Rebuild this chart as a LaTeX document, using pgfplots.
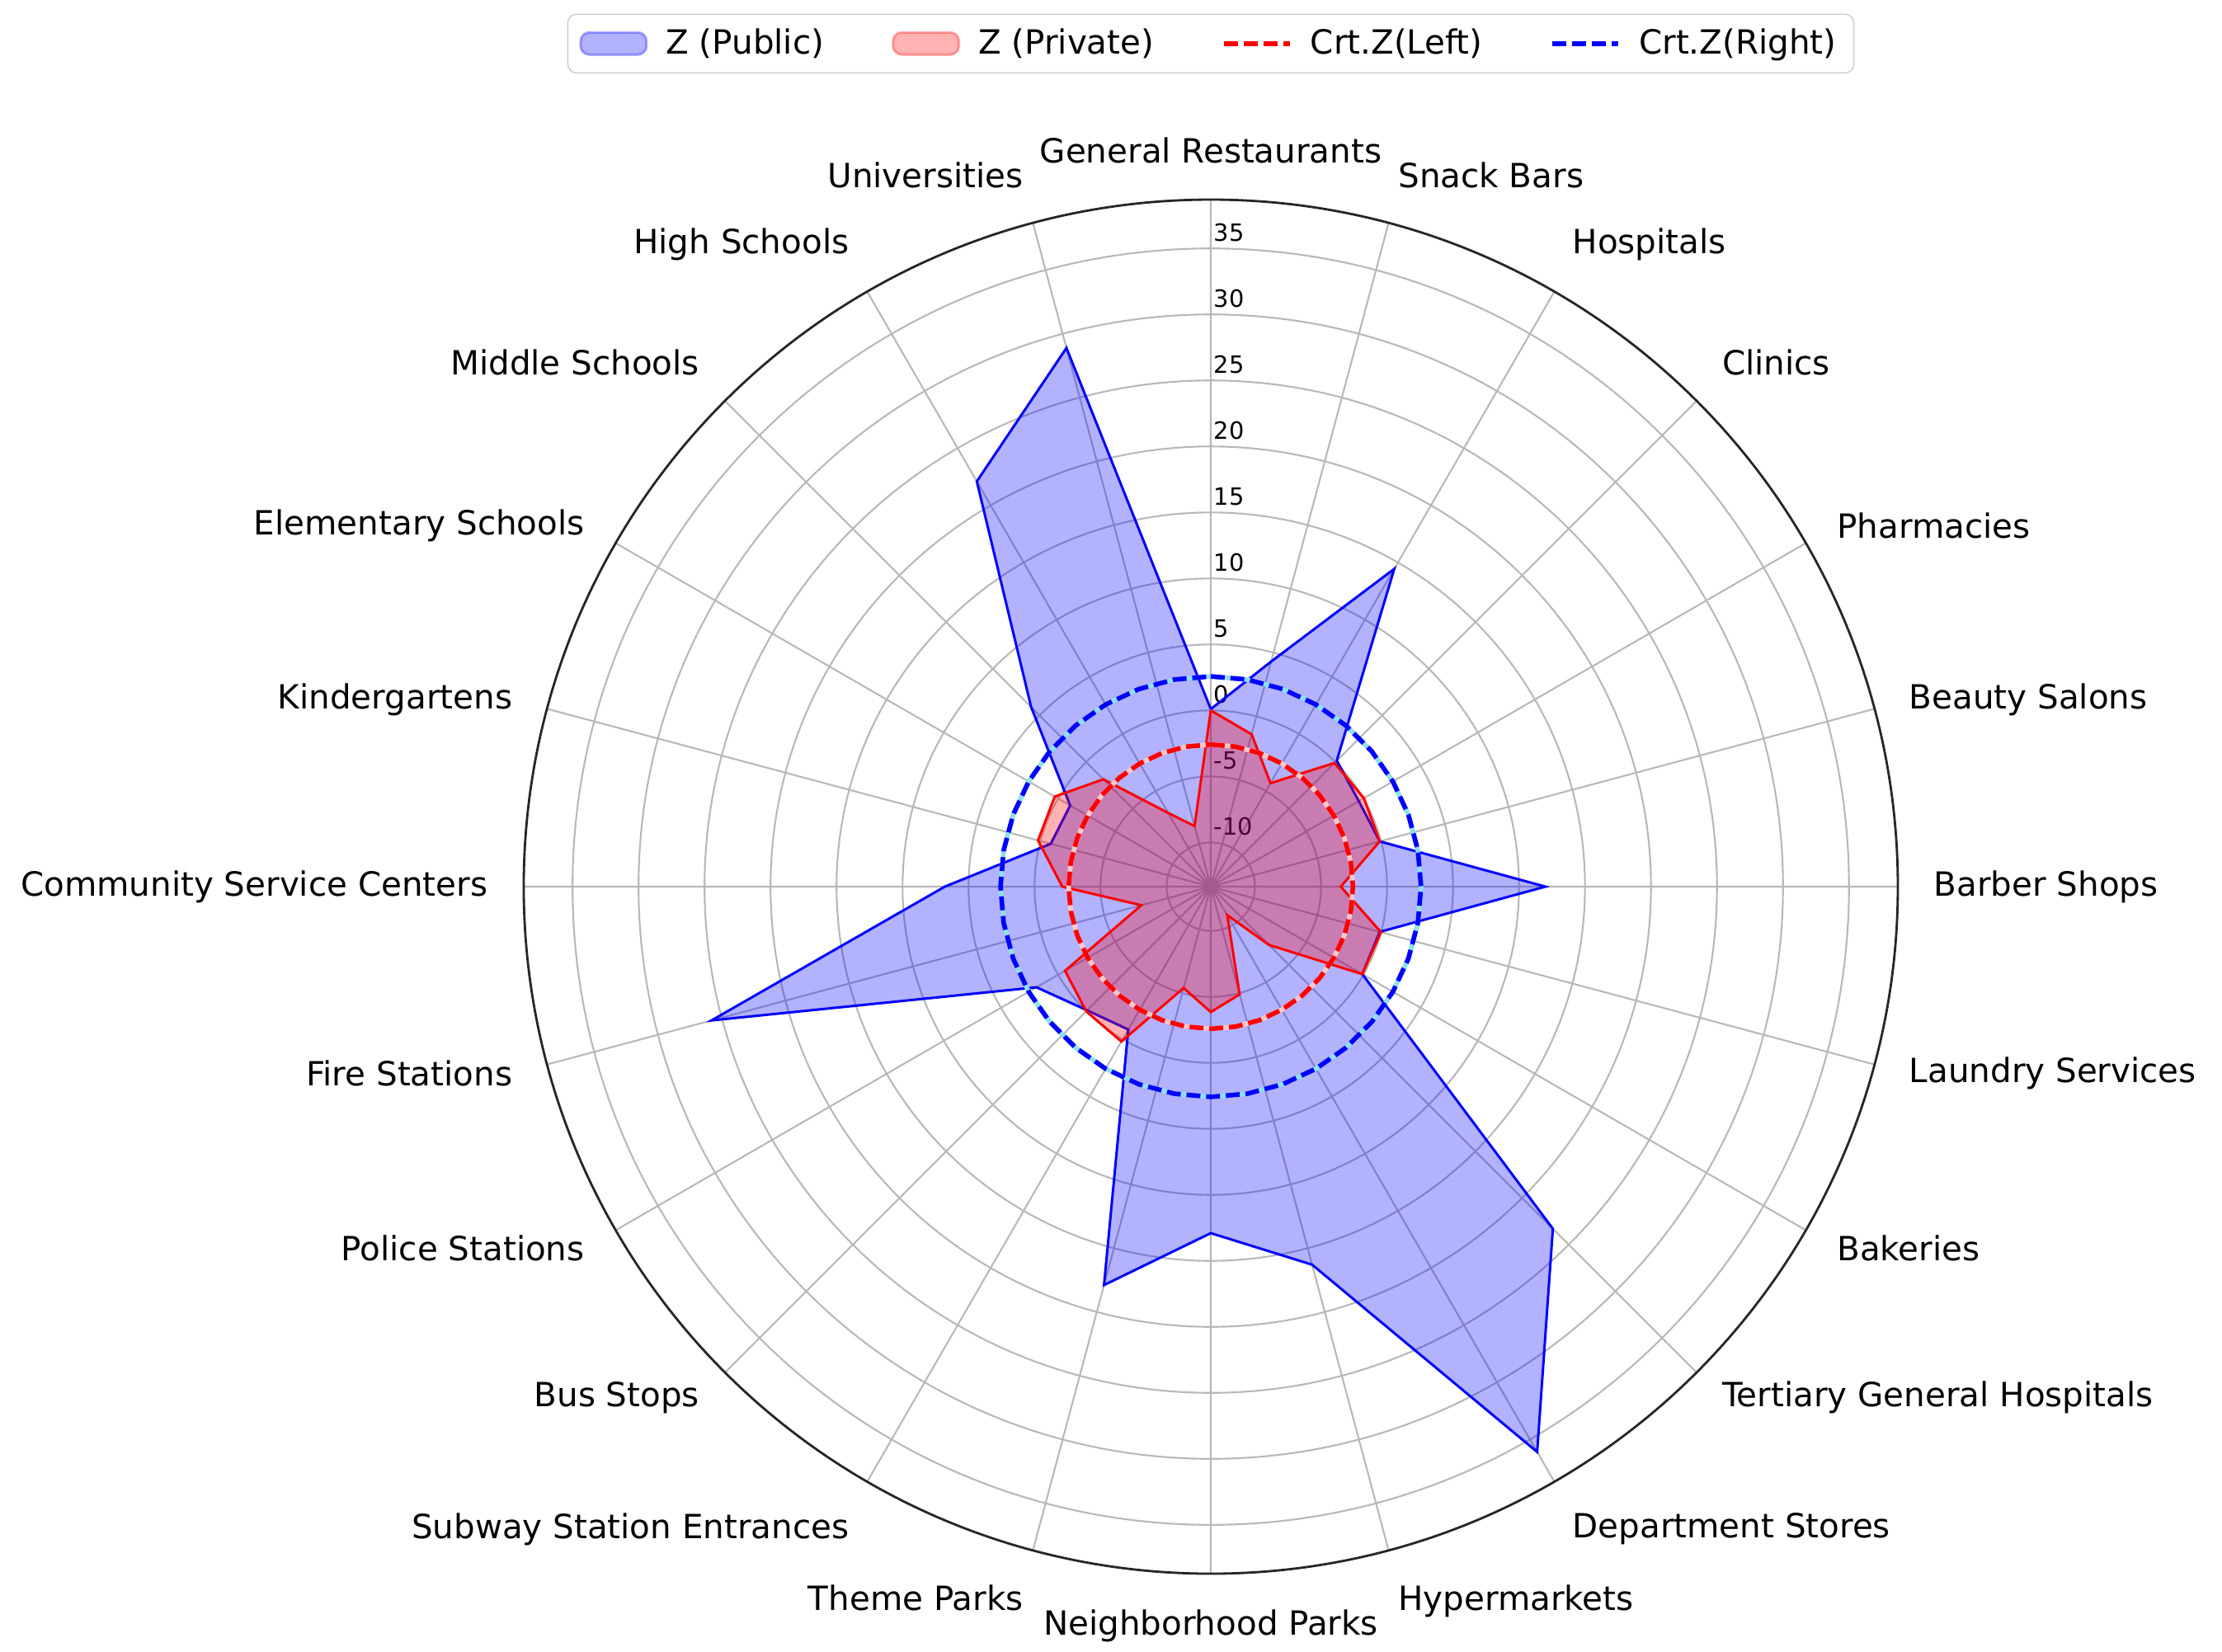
\documentclass[border=0pt]{standalone}
\usepackage{pgfplots}
\pgfplotsset{compat=1.18}
\usepgfplotslibrary{polar}
\usepackage{pgfplotstable}
\usepackage{fontspec}
\setmainfont{DejaVu Sans}

\definecolor{gapcyan}{RGB}{140,225,235}
\definecolor{gappink}{RGB}{255,200,205}

% angle (deg, 90 = top, clockwise = decreasing), Z public, Z private
\pgfplotstableread{
ang pub priv
90 0.1 0.0
75 4.3 -1.4
60 14.45 -4.3
45 0.15 -0.1
30 -0.4 0.05
15 -0.1 -0.1
0 12.0 -3.5
-15 -0.1 0.0
-30 -0.1 -0.1
-45 23.3 -7.1
-60 36.1 -10.85
-75 16.3 -4.9
-90 12.9 -3.85
-105 17.9 -5.4
-120 -0.85 0.2
-135 -0.1 0.0
-150 1.9 -0.6
-165 25.8 -7.9
-180 6.8 -2.1
-195 -0.8 0.2
-210 -1.05 0.3
-225 5.9 -1.85
-240 22.1 -6.9
-255 28.9 -8.6
-270 0.1 0.0
}\zdata

% critical values
\pgfplotstableread[row sep=\\]{
ang left right\\
90 -2.58 2.58\\ 80 -2.58 2.58\\ 70 -2.58 2.58\\ 60 -2.58 2.58\\
50 -2.58 2.58\\ 40 -2.58 2.58\\ 30 -2.58 2.58\\ 20 -2.58 2.58\\
10 -2.58 2.58\\ 0 -2.58 2.58\\ -10 -2.58 2.58\\ -20 -2.58 2.58\\
-30 -2.58 2.58\\ -40 -2.58 2.58\\ -50 -2.58 2.58\\ -60 -2.58 2.58\\
-70 -2.58 2.58\\ -80 -2.58 2.58\\ -90 -2.58 2.58\\ -100 -2.58 2.58\\
-110 -2.58 2.58\\ -120 -2.58 2.58\\ -130 -2.58 2.58\\ -140 -2.58 2.58\\
-150 -2.58 2.58\\ -160 -2.58 2.58\\ -170 -2.58 2.58\\ -180 -2.58 2.58\\
-190 -2.58 2.58\\ -200 -2.58 2.58\\ -210 -2.58 2.58\\ -220 -2.58 2.58\\
-230 -2.58 2.58\\ -240 -2.58 2.58\\ -250 -2.58 2.58\\ -260 -2.58 2.58\\
-270 -2.58 2.58\\
}\crit

% label anchors, in xtick order
\newcommand\tanch{\ifcase\ticknum south\or south east\or south east\or south east\or east\or east\or east\or east\or east\or east\or north east\or north east\or north\or north west\or north west\or west\or west\or west\or west\or west\or west\or south west\or south west\or south west\fi}

\begin{document}
\begin{tikzpicture}
\useasboundingbox (-14.68,-9.27) rectangle (12.26,10.75);
\begin{polaraxis}[
  at={(0,0)}, anchor=center,
  scale only axis, width=16.66cm, height=16.66cm,
  xmin=-270, xmax=90,
  ymin=-13.35, ymax=38.7,
  y coord trafo/.code={\pgfmathparse{#1+13.35}},
  y coord inv trafo/.code={\pgfmathparse{#1-13.35}},
  xtick={-270,-255,...,75},
  xticklabels={General Restaurants, Universities, High Schools, Middle Schools,
    Elementary Schools, Kindergartens, Community Service Centers, Fire Stations,
    Police Stations, Bus Stops, Subway Station Entrances, Theme Parks,
    Neighborhood Parks, Hypermarkets, Department Stores, Tertiary General Hospitals,
    Bakeries, Laundry Services, Barber Shops, Beauty Salons, Pharmacies, Clinics,
    Hospitals, Snack Bars},
  ytick={-10,-5,...,35},
  yticklabels={-10,-5,0,5,10,15,20,25,30,35},
  grid=major,
  major grid style={black!28, line width=0.6pt},
  axis line style={black!85, line width=0.8pt},
  y axis line style={draw=none},
  major tick length=0pt,
  xticklabel style={font=\fontsize{11.5}{13}\selectfont, anchor=\tanch,
    inner sep=0pt, shift={(\tick:0.43cm)}},
  yticklabel style={font=\fontsize{8.2}{9}\selectfont, anchor=south west,
    inner sep=0pt, xshift=0.03cm, yshift=0.08cm},
  legend columns=4,
  legend style={at={(0.5,1.0918)}, anchor=south, draw=black!20, fill=white,
    rounded corners=3pt, font=\fontsize{11.5}{13}\selectfont,
    inner xsep=4pt, inner ysep=3pt,
    /tikz/every odd column/.append style={column sep=0.15cm},
    /tikz/every even column/.append style={column sep=0.75cm}},
  clip=false,
]
\addplot[draw=blue, line width=0.85pt, fill=blue, fill opacity=0.3,
  legend image code/.code={\draw[fill=blue, fill opacity=0.3, draw=blue, draw opacity=0.3]
    (0cm,-0.135cm) rectangle (0.8cm,0.135cm);}]
  table[x=ang, y=pub] {\zdata};
\addlegendentry{Z (Public)}
\addplot[draw=red, line width=0.85pt, fill=red, fill opacity=0.3,
  legend image code/.code={\draw[fill=red, fill opacity=0.3, draw=red, draw opacity=0.3]
    (0cm,-0.135cm) rectangle (0.8cm,0.135cm);}]
  table[x=ang, y=priv] {\zdata};
\addlegendentry{Z (Private)}
\addplot[gappink, line width=1.6pt, forget plot] table[x=ang, y=left] {\crit};
\addplot[red, line width=1.6pt, dash pattern=on 4.8pt off 2pt,
  legend image code/.code={\draw[red, line width=1.6pt, dash pattern=on 4.8pt off 2pt]
    (0cm,0cm) -- (0.8cm,0cm);}]
  table[x=ang, y=left] {\crit};
\addlegendentry{Crt.Z(Left)}
\addplot[gapcyan, line width=1.6pt, forget plot] table[x=ang, y=right] {\crit};
\addplot[blue, line width=1.6pt, dash pattern=on 4.8pt off 2pt,
  legend image code/.code={\draw[blue, line width=1.6pt, dash pattern=on 4.8pt off 2pt]
    (0cm,0cm) -- (0.8cm,0cm);}]
  table[x=ang, y=right] {\crit};
\addlegendentry{Crt.Z(Right)}
\end{polaraxis}
\end{tikzpicture}
\end{document}
